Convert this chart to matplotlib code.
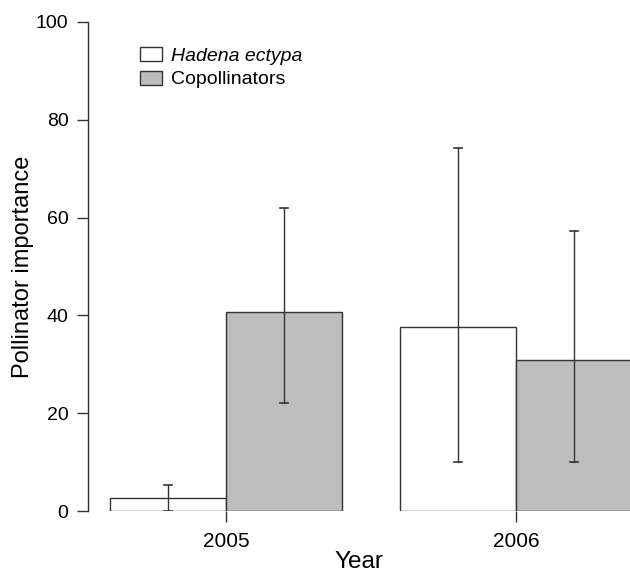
import matplotlib
matplotlib.use("Agg")
import matplotlib.pyplot as plt
import numpy as np

plt.rcParams['font.family'] = ['Liberation Sans', 'DejaVu Sans']

years = ['2005', '2006']
series = ['Hadena ectypa', 'Copollinators']
hadena = [2.6, 37.6]
hadena_lo = [0, 10]
hadena_hi = [5.3, 74.3]
copoll = [40.6, 30.9]
copoll_lo = [22, 10]
copoll_hi = [62, 57.2]

ink = '#333333'
fig = plt.figure(figsize=(6.3, 5.76), dpi=100)
ax = fig.add_axes([88/630, 65/576, 1 - 88/630, 489/576])

# R-style beside barplot: bar width 1, half-width gap between groups
group_x = np.array([0.0, 2.5])
w = 1.0
x_h = group_x + w/2
x_c = group_x + 1.5*w

ax.bar(x_h, hadena, width=w, color='white', edgecolor=ink, linewidth=1.0,
       label=series[0])
ax.bar(x_c, copoll, width=w, color='#bdbdbd', edgecolor=ink, linewidth=1.0,
       label=series[1])

for xs, lo, hi in [(x_h, hadena_lo, hadena_hi), (x_c, copoll_lo, copoll_hi)]:
    for x, l, h in zip(xs, lo, hi):
        ax.plot([x, x], [l, h], color=ink, lw=1.0)
        ax.plot([x - 0.035, x + 0.035], [l, l], color=ink, lw=1.2)
        ax.plot([x - 0.035, x + 0.035], [h, h], color=ink, lw=1.2)

ax.set_xlim(-0.19, 4.48)
ax.set_ylim(0, 100)
ax.set_yticks([0, 20, 40, 60, 80, 100])
ax.set_xticks(group_x + w)
ax.set_xticklabels(years)

for s in ['top', 'right', 'bottom']:
    ax.spines[s].set_visible(False)
ax.spines['left'].set_color(ink)
ax.spines['left'].set_linewidth(1.0)
ax.tick_params(axis='both', direction='out', length=8, width=1.0, color=ink,
               pad=6)
ax.tick_params(axis='y', labelsize=14)
ax.tick_params(axis='x', labelsize=15, pad=7)

ax.set_ylabel('Pollinator importance', fontsize=17)
ax.yaxis.set_label_coords(-0.10, 0.5)
ax.set_xlabel('Year', fontsize=17.5, labelpad=0)

leg = ax.legend(loc='upper left', bbox_to_anchor=(0.064, 0.985), frameon=False,
                fontsize=14, handlelength=1.1, handleheight=0.75,
                handletextpad=0.5, labelspacing=0.3)
leg.get_texts()[0].set_style('italic')

fig.savefig('out.png', dpi=100)
